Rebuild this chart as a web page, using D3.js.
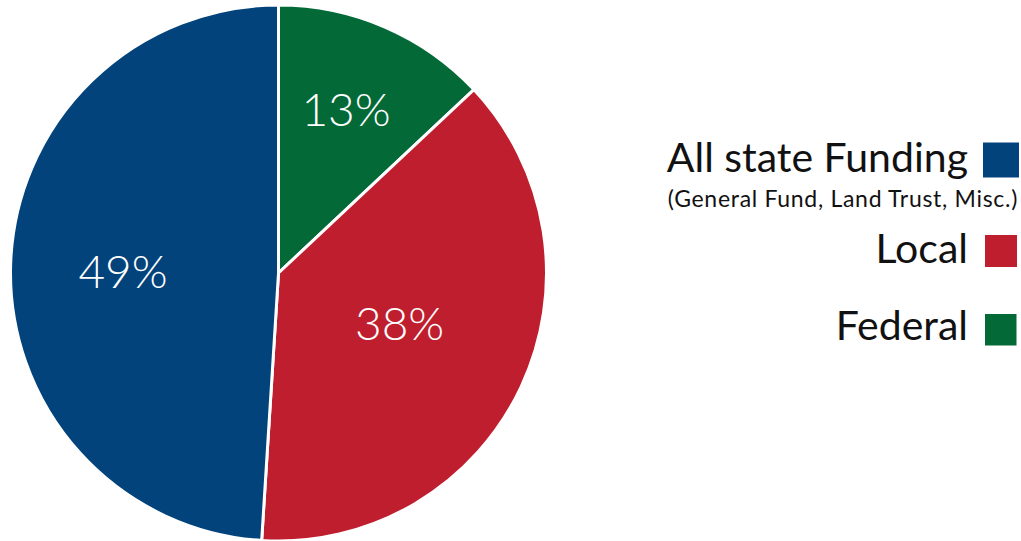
<!DOCTYPE html>
<html><head><meta charset="utf-8">
<script src="https://cdn.jsdelivr.net/npm/d3@7"></script>
<style>html,body{margin:0;padding:0;background:#fff;overflow:hidden}</style>
</head><body>
<svg id="chart" width="1021" height="541"></svg>
<script>
// Data (pie drawn clockwise from 12 o'clock in this order)
const sliceNames = ["Federal", "Local", "All state Funding"];
const sliceValues = [13, 38, 49];
const sliceLabels = ["13%", "38%", "49%"];
const sliceColors = ["#026937", "#bf1e2e", "#02437b"];
// legend (top to bottom)
const legendNames = ["All state Funding", "Local", "Federal"];
const legendSub = ["(General Fund, Land Trust, Misc.)", "", ""];
const legendColors = ["#02437b", "#bf1e2e", "#026937"];

const svg = d3.select("#chart");
const cx = 278.5, cy = 273, r = 268;
const g = svg.append("g").attr("transform", `translate(${cx},${cy})`);

const pie = d3.pie().sort(null).value(d => d)(sliceValues);
const arc = d3.arc().innerRadius(0).outerRadius(r);

g.selectAll("path").data(pie).join("path")
  .attr("d", arc)
  .attr("fill", (d, i) => sliceColors[i])
  .attr("stroke", "#fff").attr("stroke-width", 3).attr("stroke-linejoin", "miter");

// label placement: radius (px) and position within slice angle (fraction)
const labelRad = [177, 131, 155.5];
const labelFrac = [0.479, 0.48, 0.493];
const labelSize = 46;
g.selectAll("text.lbl").data(pie).join("text").attr("class", "lbl")
  .attr("transform", (d, i) => {
    const a = d.startAngle + labelFrac[i] * (d.endAngle - d.startAngle);
    const x = labelRad[i] * Math.sin(a), y = -labelRad[i] * Math.cos(a);
    return `translate(${x},${y + labelSize * 0.36})`;
  })
  .attr("text-anchor", "middle")
  .attr("fill", "#fff")
  .style("font-family", "Lato, 'Open Sans', sans-serif").style("font-weight", 300)
  .style("font-size", labelSize + "px")
  .text((d, i) => sliceLabels[i]);

// Legend
const textRight = 968;
const baseY = [172, 263, 340];
const boxes = [[983, 142.5, 36, 35], [985, 235, 32, 32], [985, 314, 31.5, 31.5]];
const lg = svg.append("g");
legendNames.forEach((name, i) => {
  lg.append("text").attr("x", textRight).attr("y", baseY[i])
    .attr("text-anchor", "end")
    .attr("fill", "#111")
    .style("font-family", "Lato, 'Open Sans', sans-serif").style("font-weight", 400)
    .style("font-size", "41px").text(name);
  const b = boxes[i];
  lg.append("rect").attr("x", b[0]).attr("y", b[1])
    .attr("width", b[2]).attr("height", b[3])
    .attr("fill", legendColors[i]);
  if (legendSub[i]) {
    lg.append("text").attr("x", 1018).attr("y", 207)
      .attr("text-anchor", "end").attr("fill", "#111")
      .style("font-family", "Lato, 'Open Sans', sans-serif").style("font-weight", 400)
      .style("font-size", "23px").style("letter-spacing", "0.7px").text(legendSub[i]);
  }
});
</script>
</body></html>
